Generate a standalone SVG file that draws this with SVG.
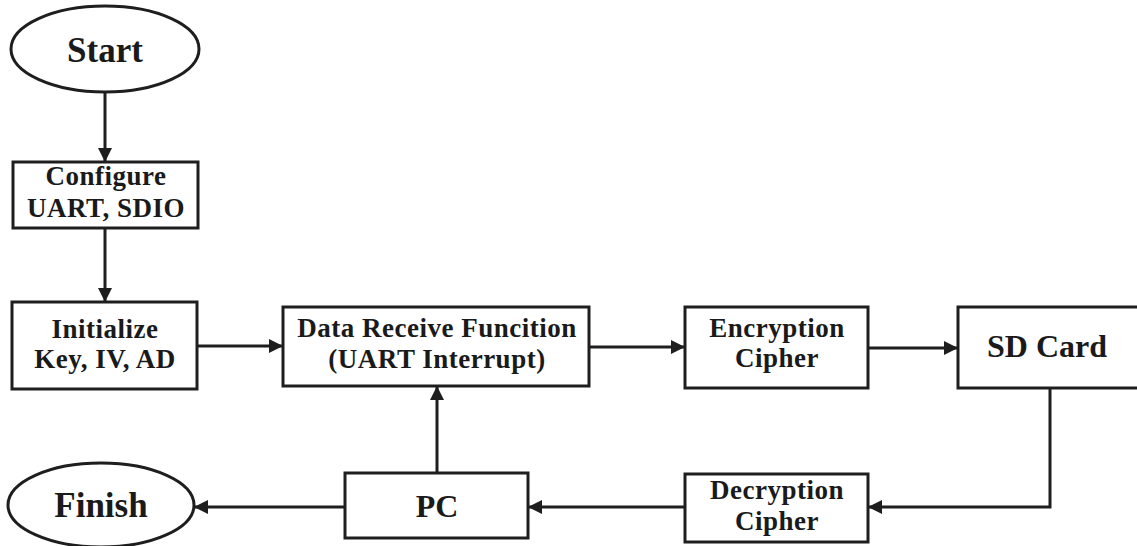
<svg xmlns="http://www.w3.org/2000/svg" width="1137" height="546" viewBox="0 0 1137 546">
  <style>
    .shape { fill: #ffffff; stroke: #1e1e1e; stroke-width: 3; }
    .conn { fill: none; stroke: #1e1e1e; stroke-width: 3; }
    .t { font-family: "Liberation Serif", "Times New Roman", serif; font-weight: bold; fill: #1a1a1a; text-anchor: middle; }
    .box { font-size: 27px; letter-spacing: 0.5px; }
    .big { font-size: 35px; }
    .mid { font-size: 32px; }
  </style>
  <defs>
    <marker id="arrow" markerUnits="userSpaceOnUse" markerWidth="15" markerHeight="15" refX="14" refY="7.5" orient="auto">
      <path d="M0,0.5 L14,7.5 L0,14.5 z" fill="#1e1e1e"/>
    </marker>
  </defs>

  <g id="connectors">
    <path class="conn" d="M105,92 V162" marker-end="url(#arrow)"/>
    <path class="conn" d="M105,228 V302" marker-end="url(#arrow)"/>
    <path class="conn" d="M197,346 H283" marker-end="url(#arrow)"/>
    <path class="conn" d="M589,347 H685" marker-end="url(#arrow)"/>
    <path class="conn" d="M868,348 H958" marker-end="url(#arrow)"/>
    <path class="conn" d="M1050,388 V507 H868" marker-end="url(#arrow)"/>
    <path class="conn" d="M685,507 H528" marker-end="url(#arrow)"/>
    <path class="conn" d="M437,473 V386" marker-end="url(#arrow)"/>
    <path class="conn" d="M345,507 H194" marker-end="url(#arrow)"/>
  </g>

  <g id="start">
    <ellipse class="shape" cx="105" cy="49" rx="94" ry="43"/>
    <text class="t big" x="105" y="62">Start</text>
  </g>

  <g id="configure">
    <rect class="shape" x="13" y="162" width="185" height="66"/>
    <text class="t box" x="106" y="185">Configure</text>
    <text class="t box" x="106" y="217">UART, SDIO</text>
  </g>

  <g id="initialize">
    <rect class="shape" x="12" y="302" width="185" height="87"/>
    <text class="t box" x="105" y="338">Initialize</text>
    <text class="t box" x="105" y="368">Key, IV, AD</text>
  </g>

  <g id="data-receive">
    <rect class="shape" x="283" y="307" width="306" height="79"/>
    <text class="t box" x="437" y="337">Data Receive Funcition</text>
    <text class="t box" x="437" y="368">(UART Interrupt)</text>
  </g>

  <g id="encryption">
    <rect class="shape" x="685" y="307" width="183" height="81"/>
    <text class="t box" x="777" y="337">Encryption</text>
    <text class="t box" x="777" y="367">Cipher</text>
  </g>

  <g id="sd-card">
    <rect class="shape" x="958" y="307" width="190" height="81"/>
    <text class="t mid" x="1047" y="357">SD Card</text>
  </g>

  <g id="decryption">
    <rect class="shape" x="685" y="474" width="183" height="68"/>
    <text class="t box" x="777" y="499">Decryption</text>
    <text class="t box" x="777" y="530">Cipher</text>
  </g>

  <g id="pc">
    <rect class="shape" x="345" y="473" width="183" height="65"/>
    <text class="t mid" x="437" y="517">PC</text>
  </g>

  <g id="finish">
    <ellipse class="shape" cx="101" cy="505" rx="93" ry="42"/>
    <text class="t big" x="101" y="517">Finish</text>
  </g>
</svg>
